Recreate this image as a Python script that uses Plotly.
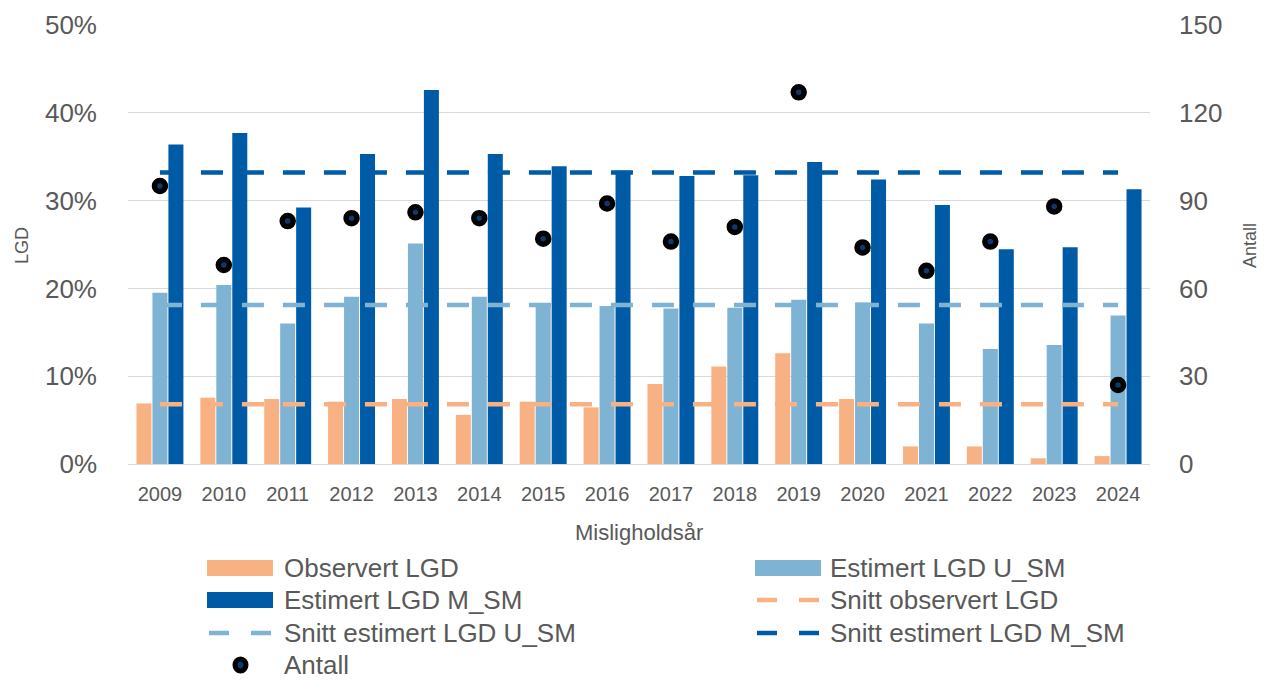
import plotly.graph_objects as go

# Misligholdsår
years = ["2009", "2010", "2011", "2012", "2013", "2014", "2015", "2016",
         "2017", "2018", "2019", "2020", "2021", "2022", "2023", "2024"]

observert_lgd = [0.069, 0.0755, 0.074, 0.071, 0.074, 0.056, 0.071, 0.0645,
                 0.091, 0.111, 0.126, 0.074, 0.020, 0.020, 0.0065, 0.009]
estimert_u_sm = [0.195, 0.204, 0.160, 0.1905, 0.251, 0.1905, 0.182, 0.180,
                 0.177, 0.178, 0.187, 0.184, 0.160, 0.131, 0.1355, 0.169]
estimert_m_sm = [0.364, 0.377, 0.292, 0.353, 0.426, 0.353, 0.339, 0.334,
                 0.328, 0.329, 0.344, 0.324, 0.295, 0.2445, 0.247, 0.313]
antall = [95, 68, 83, 84, 86, 84, 77, 89, 76, 81, 127, 74, 66, 76, 88, 27]

snitt_observert = 0.068
snitt_u_sm = 0.181
snitt_m_sm = 0.332

C_ORANGE = "#F8B183"
C_LIGHT = "#7FB3D4"
C_DARK = "#005BA6"
C_DOT = "#0B3A6E"
C_TEXT = "#595959"
C_GRID = "#D9D9D9"
FONT = "Liberation Sans Narrow, Liberation Sans, Arial, sans-serif"
FONT_W = "Liberation Sans, Arial, sans-serif"

W, H = 1272, 686
L, R, T, B = 128, 1150, 25, 464

fig = go.Figure()

fig.add_trace(go.Bar(x=years, y=observert_lgd, name="Observert LGD",
                     marker=dict(color=C_ORANGE, line=dict(width=0)), showlegend=False))
fig.add_trace(go.Bar(x=years, y=estimert_u_sm, name="Estimert LGD U_SM",
                     marker=dict(color=C_LIGHT, line=dict(width=0)), showlegend=False))
fig.add_trace(go.Bar(x=years, y=estimert_m_sm, name="Estimert LGD M_SM",
                     marker=dict(color=C_DARK, line=dict(width=0)), showlegend=False))

DASH = "22px,19px"
for val, col, nm in [(snitt_observert, C_ORANGE, "Snitt observert LGD"),
                     (snitt_u_sm, C_LIGHT, "Snitt estimert LGD U_SM"),
                     (snitt_m_sm, C_DARK, "Snitt estimert LGD M_SM")]:
    fig.add_trace(go.Scatter(x=years, y=[val] * len(years), mode="lines", name=nm,
                             line=dict(color=col, width=4.5, dash=DASH),
                             showlegend=False, hoverinfo="skip"))

fig.add_trace(go.Scatter(x=years, y=antall, mode="markers", name="Antall", yaxis="y2",
                         marker=dict(size=11, color=C_DOT,
                                     line=dict(color="black", width=5.5)),
                         showlegend=False))


def px_x(p):
    return (p - L) / (R - L)


def px_y(p):
    return (B - p) / (B - T)


shapes = []
annotations = []

# legend block, two columns
col_swatch = [207, 755]
col_text = [282, 828]
rows = [568, 600, 633, 665]
entries = [
    ("bar", C_ORANGE, "Observert LGD"),
    ("bar", C_LIGHT, "Estimert LGD U_SM"),
    ("bar", C_DARK, "Estimert LGD M_SM"),
    ("dash", C_ORANGE, "Snitt observert LGD"),
    ("dash", C_LIGHT, "Snitt estimert LGD U_SM"),
    ("dash", C_DARK, "Snitt estimert LGD M_SM"),
    ("dot", "black", "Antall"),
]
for i, (kind, col, label) in enumerate(entries):
    r, c = divmod(i, 2)
    yc = rows[r]
    xs = col_swatch[c]
    if kind == "bar":
        shapes.append(dict(type="rect", xref="paper", yref="paper",
                           x0=px_x(xs), x1=px_x(xs + 66), y0=px_y(yc - 8), y1=px_y(yc + 8),
                           fillcolor=col, line=dict(width=0)))
    elif kind == "dash":
        for d0 in (xs + 2, xs + 44):
            shapes.append(dict(type="line", xref="paper", yref="paper",
                               x0=px_x(d0), x1=px_x(d0 + 20), y0=px_y(yc), y1=px_y(yc),
                               line=dict(color=col, width=4.5)))
    else:
        shapes.append(dict(type="circle", xref="paper", yref="paper",
                           x0=px_x(xs + 28), x1=px_x(xs + 39), y0=px_y(yc - 6), y1=px_y(yc + 6),
                           fillcolor=C_DOT, line=dict(color="black", width=5)))
    annotations.append(dict(text=label, xref="paper", yref="paper",
                            x=px_x(col_text[c]), y=px_y(yc), xanchor="left", yanchor="middle",
                            showarrow=False, font=dict(family=FONT, size=26, color=C_TEXT)))

# axis titles
annotations.append(dict(text="LGD", xref="paper", yref="paper", x=px_x(22), y=px_y(246),
                        textangle=-90, showarrow=False, xanchor="center", yanchor="middle",
                        font=dict(family=FONT_W, size=18, color=C_TEXT)))
annotations.append(dict(text="Antall", xref="paper", yref="paper", x=px_x(1250), y=px_y(246),
                        textangle=-90, showarrow=False, xanchor="center", yanchor="middle",
                        font=dict(family=FONT_W, size=18, color=C_TEXT)))
annotations.append(dict(text="Misligholdsår", xref="paper", yref="paper", x=px_x(639), y=px_y(532),
                        showarrow=False, xanchor="center", yanchor="middle",
                        font=dict(family=FONT, size=22, color=C_TEXT)))

fig.update_layout(
    width=W, height=H,
    margin=dict(l=L, r=W - R, t=T, b=H - B, pad=0, autoexpand=False),
    paper_bgcolor="white", plot_bgcolor="white",
    barmode="group", bargap=0.25, bargroupgap=0.06,
    showlegend=False,
    xaxis=dict(type="category", range=[-0.5, len(years) - 0.5], showgrid=False,
               showline=True, linecolor=C_GRID, linewidth=1,
               ticks="", ticklabelstandoff=12,
               tickfont=dict(family=FONT, size=20, color=C_TEXT)),
    yaxis=dict(range=[0, 0.5], dtick=0.1, tickformat=".0%", showgrid=True, gridcolor=C_GRID,
               gridwidth=1, zeroline=False, showline=False, ticks="", ticklabelstandoff=30,
               tickfont=dict(family=FONT_W, size=26, color=C_TEXT)),
    yaxis2=dict(range=[0, 150], dtick=30, overlaying="y", side="right", showgrid=False,
                zeroline=False, showline=False, ticks="", ticklabelstandoff=28,
                tickfont=dict(family=FONT_W, size=26, color=C_TEXT)),
    shapes=shapes,
    annotations=annotations,
)

fig.write_html("out.html")
